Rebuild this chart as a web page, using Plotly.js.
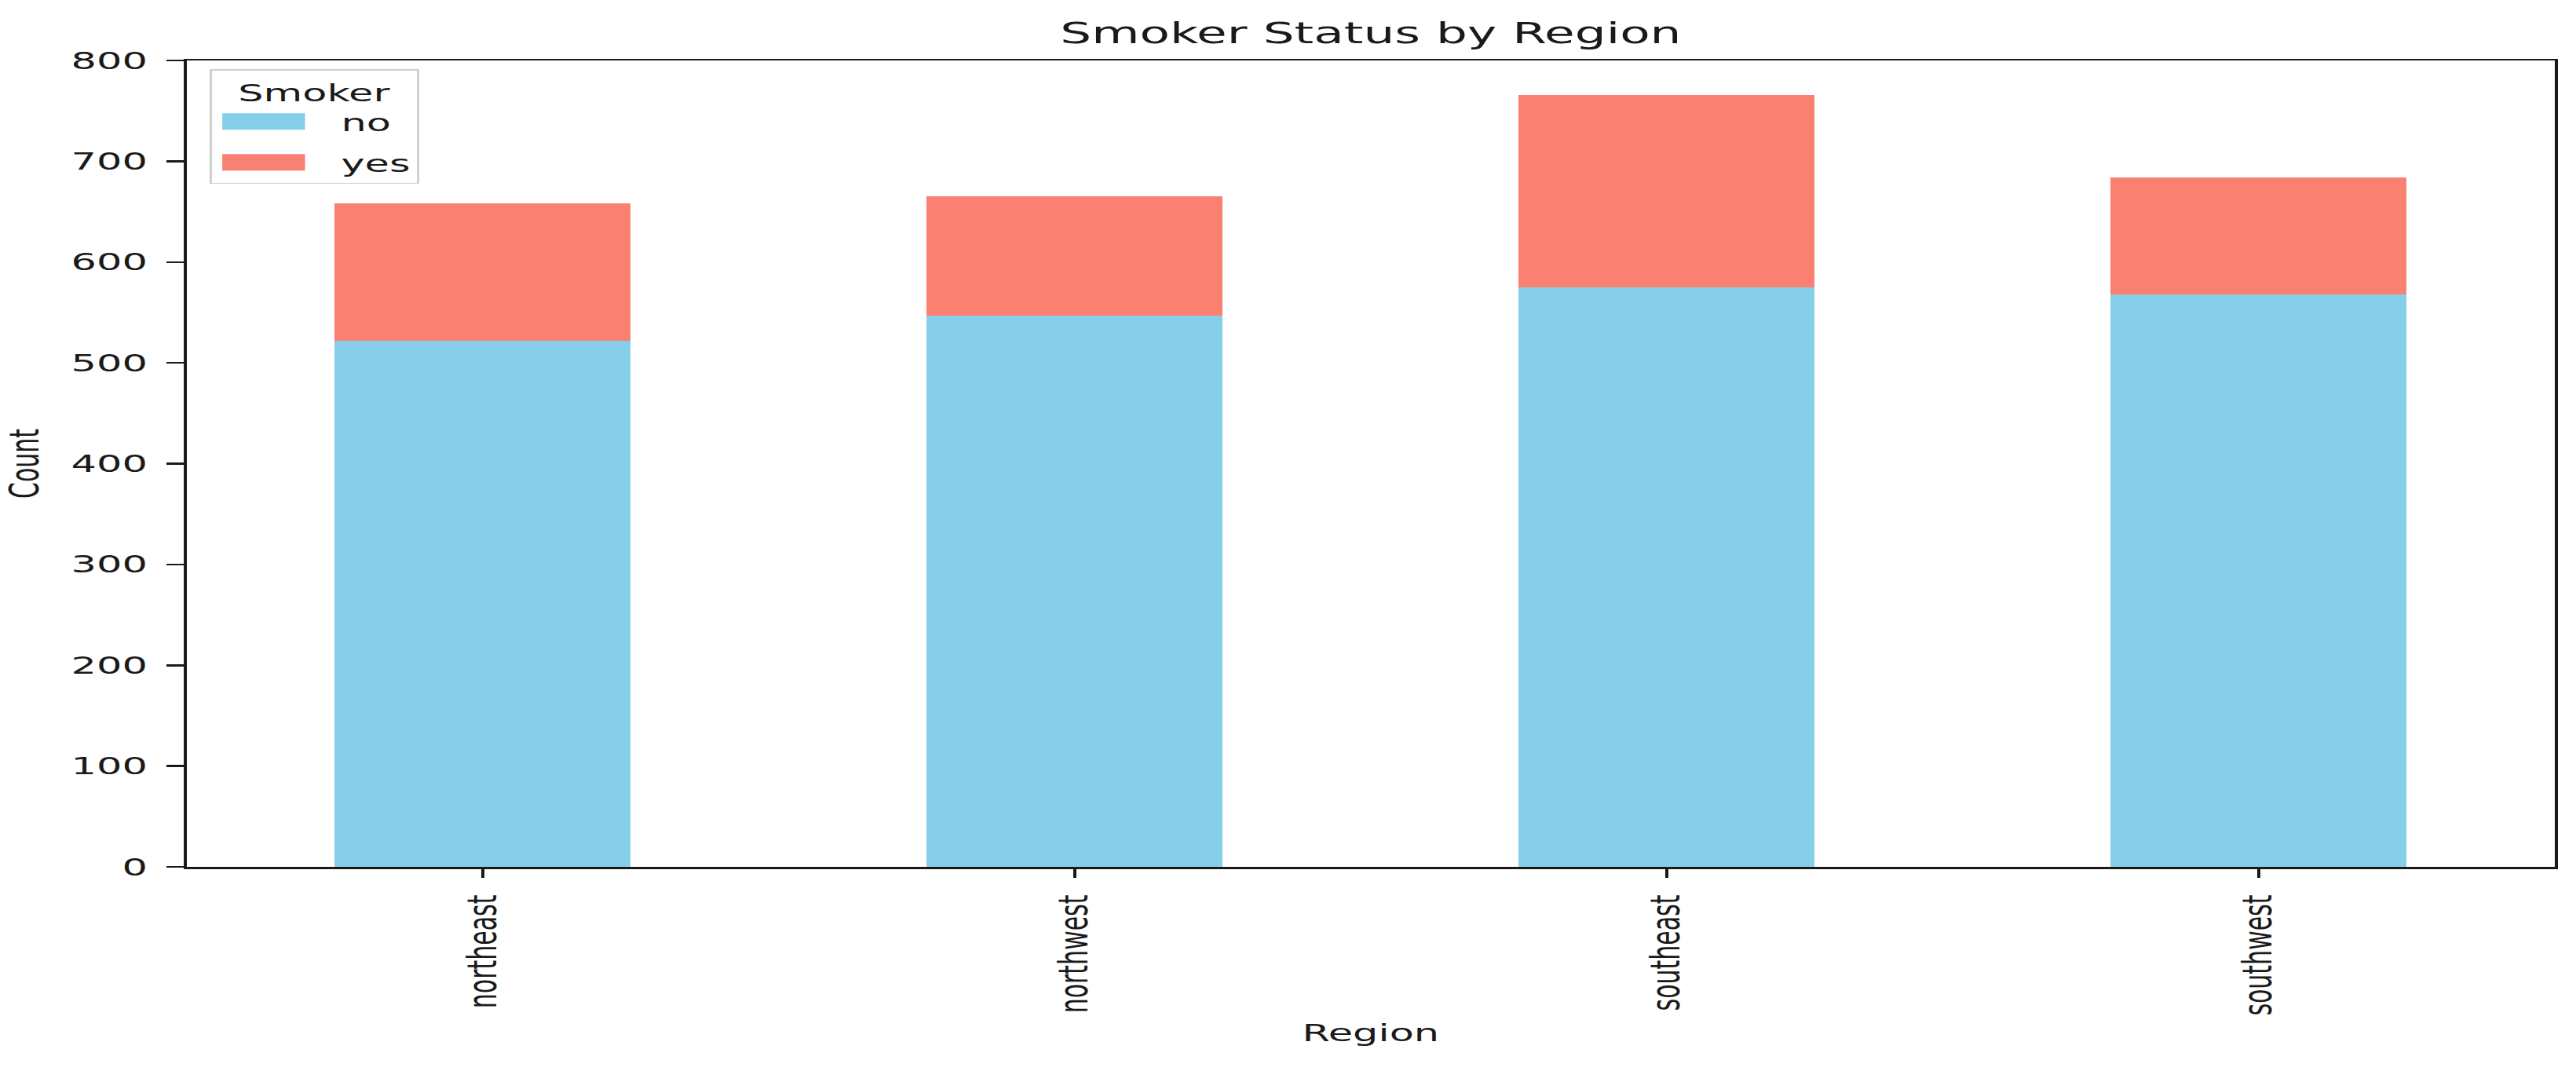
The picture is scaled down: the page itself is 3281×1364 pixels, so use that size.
<!DOCTYPE html>
<html>
<head>
<meta charset="utf-8">
<script src="https://cdn.plot.ly/plotly-3.0.1.min.js"></script>
<style>
  html, body { margin: 0; padding: 0; background: #ffffff; }
  #wrap { width: 3281px; height: 1364px; overflow: hidden; position: relative; }
  #plot { width: 1930px; height: 1364px; transform: scaleX(1.7); transform-origin: 0 0; }
</style>
</head>
<body>
<div id="wrap"><div id="plot"></div></div>
<script>
// Data
const regions = ["northeast", "northwest", "southeast", "southwest"];
const noCounts = [522, 547, 575, 568];
const yesCounts = [136, 118, 191, 116];
const seriesNames = ["no", "yes"];
const yTicks = [0, 100, 200, 300, 400, 500, 600, 700, 800];

const FONT = "DejaVu Sans, sans-serif";
const INK = "#1a1a1a";

const traces = [
  {
    type: "bar", name: seriesNames[0], x: regions, y: noCounts, legendgroup: "g0",
    marker: { color: "#87CEEB", line: { width: 0 } }, width: 0.5
  },
  {
    type: "bar", name: seriesNames[1], x: regions, y: yesCounts, legendgroup: "g1",
    marker: { color: "#FA8072", line: { width: 0 } }, width: 0.5
  }
];

const layout = {
  width: 1930, height: 1364,
  barmode: "stack",
  paper_bgcolor: "#ffffff", plot_bgcolor: "#ffffff",
  margin: { l: 140, r: 16, t: 77, b: 260, pad: 0 },
  font: { family: FONT, size: 30, color: INK },
  title: {
    text: "Smoker Status by Region",
    font: { family: FONT, size: 37, color: INK },
    x: 0.5, xref: "paper", xanchor: "center",
    y: 1 - 42 / 1364, yref: "container", yanchor: "middle"
  },
  xaxis: {
    type: "category",
    range: [-0.5, 3.5],
    tickangle: -90,
    ticks: "outside", ticklen: 11, tickwidth: 2, tickcolor: INK,
    ticklabelstandoff: 10,
    tickfont: { family: FONT, size: 30, color: INK },
    showline: true, linecolor: INK, linewidth: 2.5, mirror: true,
    showgrid: false, zeroline: false,
    automargin: false,
    title: { text: "Region", font: { family: FONT, size: 30, color: INK }, standoff: 13 }
  },
  yaxis: {
    range: [0, 800],
    tickvals: yTicks,
    ticktext: yTicks.map(String),
    ticks: "outside", ticklen: 13, tickwidth: 2.5, tickcolor: INK,
    ticklabelstandoff: 8,
    tickfont: { family: FONT, size: 30, color: INK },
    showline: true, linecolor: INK, linewidth: 2.5, mirror: true,
    showgrid: false, zeroline: false,
    automargin: false,
    title: { text: "Count", font: { family: FONT, size: 30, color: INK }, standoff: 15 }
  },
  showlegend: true,
  legend: {
    x: 0.0096, y: 0.989, xanchor: "left", yanchor: "top",
    xref: "paper", yref: "paper",
    bgcolor: "rgba(255,255,255,0.85)",
    bordercolor: "#d0d0d0", borderwidth: 1.5,
    font: { family: FONT, size: 30, color: INK },
    title: { text: "Smoker", side: "top center", font: { family: FONT, size: 30, color: INK } },
    traceorder: "grouped",
    tracegroupgap: 10,
    itemwidth: 87,
    entrywidth: 162,
    entrywidthmode: "pixels"
  }
};

Plotly.newPlot("plot", traces, layout, { displayModeBar: false, staticPlot: true, responsive: false })
  .then(function (gd) {
    // widen the legend swatches to the reference's patch shape
    gd.querySelectorAll(".legend .legendpoints path").forEach(function (p) {
      p.setAttribute("d", "M-40.5,-10.5H21.5V10.5H-40.5Z");
    });
  });
</script>
</body>
</html>
